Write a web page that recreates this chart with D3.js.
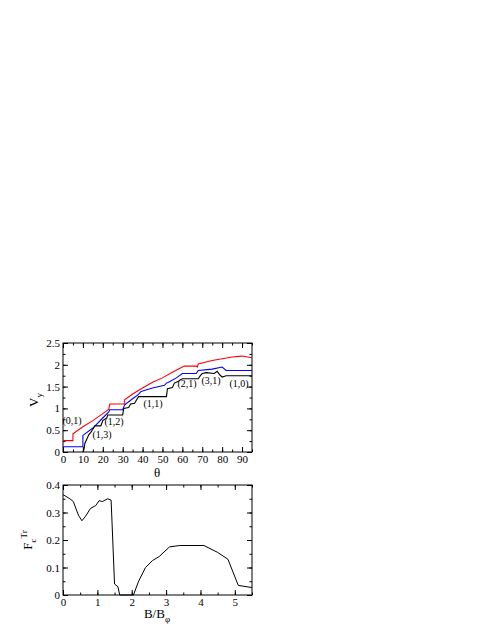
<!DOCTYPE html><html><head><script src="https://cdn.jsdelivr.net/npm/d3@7"></script>
<style>body{margin:0;background:#fff}text{font-family:"Liberation Serif","DejaVu Serif",serif}</style></head><body><svg id="c" width="485" height="627"></svg>
<script>
const redV=[[0,0.26],[5,0.26],[5,0.42],[10,0.58],[15,0.72],[20,0.88],[23,0.98],[23.5,1.1],[31,1.1],[31,1.2],[35,1.33],[40,1.47],[45,1.6],[50,1.7],[55,1.83],[60,1.95],[61,1.97],[67,1.97],[67.5,1.95],[68,2.02],[75,2.1],[80,2.14],[85,2.18],[90,2.2],[95,2.16]];
const blueV=[[0,0.12],[10,0.12],[10,0.38],[15,0.55],[20,0.78],[23,0.92],[23.5,0.97],[30,0.97],[31,1.08],[35,1.22],[38,1.32],[39,1.38],[40,1.4],[45,1.47],[51,1.53],[52,1.58],[53,1.6],[57,1.7],[60,1.8],[67,1.8],[68,1.87],[75,1.9],[80,1.95],[82,1.87],[95,1.87]];
const blackV=[[10,0],[10.5,0.05],[11,0.2],[12,0.3],[13,0.4],[14,0.45],[15,0.52],[16,0.6],[19,0.6],[20,0.72],[22,0.78],[22.5,0.85],[30,0.85],[30.5,1.0],[33,1.02],[34,1.1],[36,1.12],[37,1.2],[38,1.27],[52,1.27],[52.5,1.45],[55,1.48],[56,1.58],[58,1.62],[59,1.66],[60,1.68],[68,1.68],[69,1.75],[70,1.8],[72,1.82],[76,1.8],[77.5,1.85],[79,1.76],[80,1.72],[82,1.75],[95,1.75]];
const fcData=[[0,0.365],[0.2,0.35],[0.3,0.34],[0.45,0.29],[0.55,0.27],[0.65,0.285],[0.8,0.315],[0.95,0.325],[1.05,0.343],[1.15,0.34],[1.3,0.35],[1.4,0.345],[1.5,0.04],[1.6,0.03],[1.65,0],[2.05,0],[2.2,0.05],[2.4,0.1],[2.6,0.125],[2.8,0.14],[3.1,0.175],[3.4,0.18],[4.1,0.18],[4.5,0.155],[4.8,0.13],[5.1,0.035],[5.5,0.027]];
const labels=[["(0,1)",72,424],["(1,3)",102,438],["(1,2)",114,425],["(1,1)",153,407],["(2,1)",187,387],["(3,1)",211,384],["(1,0)",239,387]];
const svg=d3.select("#c");
function panel(x0,x1,y0,y1,xd,yd,xMaj,xMin,yMaj,yMin,xfmt,yfmt){
 const x=d3.scaleLinear().domain(xd).range([x0,x1]),y=d3.scaleLinear().domain(yd).range([y1,y0]);
 const g=svg.append("g");
 function ax(gen,sc,major,minor,tr,fmt,show){
  const a=g.append("g").attr("transform",tr).call(gen(sc).tickValues(d3.range(sc.domain()[0],sc.domain()[1]+1e-9,major)).tickSizeInner(-5).tickSizeOuter(0).tickPadding(3).tickFormat(show?fmt:""));
  a.select(".domain").remove();a.selectAll("text").attr("font-size",11).attr("fill","#000");
  g.append("g").attr("transform",tr).call(gen(sc).tickValues(d3.range(sc.domain()[0],sc.domain()[1]+1e-9,minor)).tickSizeInner(-2.5).tickSizeOuter(0).tickFormat("")).select(".domain").remove();
 }
 ax(d3.axisBottom,x,xMaj,xMin,`translate(0,${y1})`,xfmt,true);
 ax(d3.axisTop,x,xMaj,xMin,`translate(0,${y0})`,xfmt,false);
 ax(d3.axisLeft,y,yMaj,yMin,`translate(${x0},0)`,yfmt,true);
 ax(d3.axisRight,y,yMaj,yMin,`translate(${x1},0)`,yfmt,false);
 g.append("rect").attr("x",x0).attr("y",y0).attr("width",x1-x0).attr("height",y1-y0).attr("fill","none").attr("stroke","#000");
 return {x,y,g};
}
const p1=panel(63,252,343,452,[0,95],[0,2.5],10,5,0.5,0.25,d=>d,d=>d===0?"0":d);
const ln=d3.line().x(d=>p1.x(d[0])).y(d=>p1.y(d[1]));
[[redV,"#ff0000"],[blueV,"#0000ff"],[blackV,"#000"]].forEach(([d,c])=>p1.g.append("path").attr("d",ln(d)).attr("fill","none").attr("stroke",c).attr("stroke-width",1.1));
labels.forEach(([t,x,y])=>svg.append("text").attr("x",x).attr("y",y).attr("text-anchor","middle").attr("font-size",10).text(t));
svg.append("text").attr("x",157).attr("y",477).attr("text-anchor","middle").attr("font-size",13).text("θ");
const vt=svg.append("text").attr("transform","translate(38,400) rotate(-90)").attr("text-anchor","middle").attr("font-size",13);
vt.append("tspan").text("V");vt.append("tspan").attr("font-size",9).attr("dy",4).text("y");
const p2=panel(63,252,485,595,[0,5.5],[0,0.4],1,0.5,0.1,0.05,d=>d,d=>d===0?"0":d.toFixed(1));
const ln2=d3.line().x(d=>p2.x(d[0])).y(d=>p2.y(d[1]));
p2.g.append("path").attr("d",ln2(fcData)).attr("fill","none").attr("stroke","#000").attr("stroke-width",1);
const bt=svg.append("text").attr("x",157).attr("y",618).attr("text-anchor","middle").attr("font-size",13);
bt.append("tspan").text("B/B");bt.append("tspan").attr("font-size",9).attr("dy",4).text("φ");
const ft=svg.append("text").attr("transform","translate(32,540) rotate(-90)").attr("text-anchor","middle").attr("font-size",13);
ft.append("tspan").text("F");ft.append("tspan").attr("font-size",9).attr("dy",4).text("c");ft.append("tspan").attr("font-size",9).attr("dy",-9).text("Tr");
</script></body></html>
